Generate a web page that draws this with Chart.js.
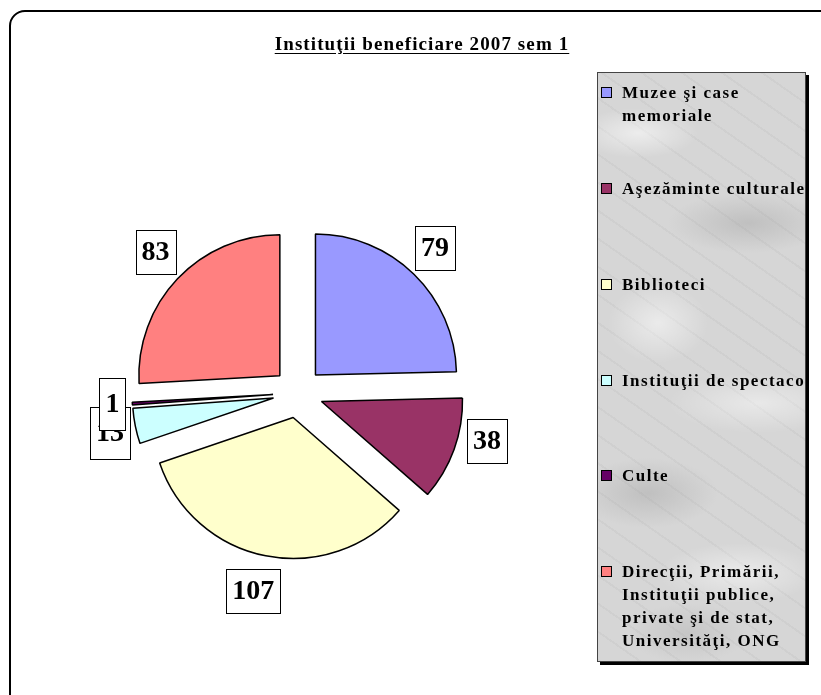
<!DOCTYPE html>
<html>
<head>
<meta charset="utf-8">
<script src="https://cdn.jsdelivr.net/npm/chart.js@4/dist/chart.umd.min.js"></script>
<style>
  html, body { margin: 0; padding: 0; background: #fff; overflow: hidden; }
  body { width: 821px; height: 695px; position: relative; font-family: "Liberation Serif", "Times New Roman", serif; }
  #frame {
    position: absolute; left: 9px; top: 10px; width: 840px; height: 720px;
    border: 2px solid #000; border-radius: 16px; box-sizing: border-box;
  }
  #wrap { position: absolute; left: 0; top: 0; width: 821px; height: 695px; }
  #title {
    position: absolute; left: 172px; width: 500px; top: 33px; text-align: center;
    font-weight: bold; font-size: 19px; letter-spacing: 1.1px; text-decoration: underline;
    text-underline-offset: 3px;
  }
  #legend {
    position: absolute; left: 597px; top: 72px; width: 209px; height: 590px;
    border: 1px solid #444; box-sizing: border-box; overflow: hidden;
    box-shadow: 3px 3px 0 #000;
    background-color: #d6d6d6;
    background-image:
      radial-gradient(ellipse 60px 25px at 40px 60px, rgba(255,255,255,0.55), transparent),
      radial-gradient(ellipse 80px 30px at 150px 150px, rgba(150,150,150,0.35), transparent),
      radial-gradient(ellipse 50px 40px at 60px 250px, rgba(255,255,255,0.5), transparent),
      radial-gradient(ellipse 90px 30px at 160px 330px, rgba(255,255,255,0.45), transparent),
      radial-gradient(ellipse 70px 35px at 50px 420px, rgba(150,150,150,0.35), transparent),
      radial-gradient(ellipse 80px 30px at 140px 500px, rgba(255,255,255,0.5), transparent),
      radial-gradient(ellipse 60px 30px at 90px 560px, rgba(160,160,160,0.3), transparent),
      repeating-linear-gradient(35deg, rgba(150,150,150,0.10) 0 2px, transparent 2px 23px);
  }
  .item { position: absolute; left: 3px; width: 240px; font-weight: bold; font-size: 17px;
          letter-spacing: 1.5px; line-height: 23px; white-space: pre; color: #000; }
  .sw { position: absolute; left: 0; top: 6px; width: 9px; height: 9px; border: 1px solid #000; }
  .txt { position: absolute; left: 21px; top: 0; }
</style>
</head>
<body>
<div id="frame"></div>
<div id="wrap"><canvas id="pieChart" width="821" height="695"></canvas></div>
<div id="title">Instituţii beneficiare 2007 sem 1</div>
<div id="legend"></div>
<script>
// Categories and values
const categories = [
  "Muzee şi case\nmemoriale",
  "Aşezăminte culturale",
  "Biblioteci",
  "Instituţii de spectacol",
  "Culte",
  "Direcţii, Primării,\nInstituţii publice,\nprivate şi de stat,\nUniversităţi, ONG"
];
const values = [79, 38, 107, 13, 1, 83];
const sliceColors = ["#9999FF", "#993366", "#FFFFCC", "#CCFFFF", "#660066", "#FF8080"];

// layout bits
const legendTops = [8, 104, 200, 296, 391, 487];
const explode = 25;          // px each slice is pulled out
const labelNudge = [[-2, -3], [2, -20], [-6, 3], [7, 0], [13, -2], [2, -4]];

const legend = document.getElementById("legend");
categories.forEach((name, i) => {
  const div = document.createElement("div");
  div.className = "item";
  div.style.top = legendTops[i] + "px";
  const sw = document.createElement("div");
  sw.className = "sw";
  sw.style.background = sliceColors[i];
  const t = document.createElement("div");
  t.className = "txt";
  t.textContent = name;
  div.appendChild(sw);
  div.appendChild(t);
  legend.appendChild(div);
});

// exploded slices: move every arc out along its bisector (no radius growth)
const explodeSlices = {
  id: "explodeSlices",
  beforeDatasetDraw(chart, args) {
    const ctx = chart.ctx;
    args.meta.data.forEach((arc) => {
      const p = arc.getProps(["startAngle", "endAngle"], true);
      const mid = (p.startAngle + p.endAngle) / 2;
      ctx.save();
      ctx.translate(Math.cos(mid) * explode, Math.sin(mid) * explode);
      arc.draw(ctx);
      ctx.restore();
    });
    return false;
  }
};

// boxed value labels outside each slice
const boxLabels = {
  id: "boxLabels",
  afterDatasetsDraw(chart) {
    const ctx = chart.ctx;
    const meta = chart.getDatasetMeta(0);
    ctx.save();
    ctx.font = "bold 28px 'Liberation Serif'";
    ctx.textAlign = "center";
    ctx.textBaseline = "middle";
    meta.data.forEach((arc, i) => {
      const p = arc.getProps(["x", "y", "startAngle", "endAngle", "outerRadius"], true);
      const mid = (p.startAngle + p.endAngle) / 2;
      const r = p.outerRadius + 58;
      const x = p.x + Math.cos(mid) * r + labelNudge[i][0];
      const y = p.y + Math.sin(mid) * r + labelNudge[i][1];
      const text = String(values[i]);
      const w = Math.round(ctx.measureText(text).width + 12);
      const h = i === 3 || i === 4 ? 52 : 44;
      const bx = Math.round(x - w / 2) + 0.5, by = Math.round(y - h / 2) + 0.5;
      ctx.fillStyle = "#fff";
      ctx.fillRect(bx, by, w, h);
      ctx.strokeStyle = "#000";
      ctx.lineWidth = 1;
      ctx.strokeRect(bx, by, w, h);
      ctx.fillStyle = "#000";
      ctx.fillText(text, x, y + 1);
    });
    ctx.restore();
  }
};

new Chart(document.getElementById("pieChart"), {
  type: "pie",
  data: {
    labels: categories,
    datasets: [{
      data: values,
      backgroundColor: sliceColors,
      borderColor: "#000",
      borderWidth: 1.5,
      offset: 0,
      hoverOffset: 0
    }]
  },
  options: {
    responsive: false,
    animation: false,
    radius: 141,
    layout: { padding: { left: 0, right: 225, top: 91, bottom: 0 } },
    plugins: {
      legend: { display: false },
      title: { display: false },
      tooltip: { enabled: false }
    }
  },
  plugins: [explodeSlices, boxLabels]
});
</script>
</body>
</html>
